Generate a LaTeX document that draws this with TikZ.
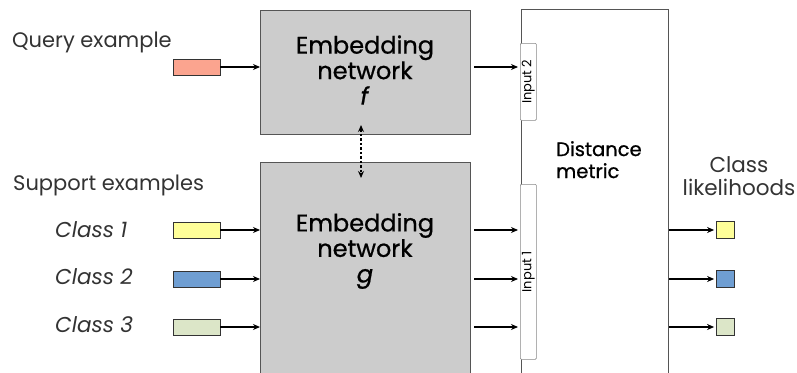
\documentclass[tikz,border=0pt]{standalone}
\usepackage{fontspec}
\setmainfont{Poppins}
\newfontfamily\netfont{Poppins}[FakeBold=0.8]
\usetikzlibrary{arrows.meta}
\definecolor{boxgray}{HTML}{CCCCCC}
\definecolor{edgegray}{HTML}{555555}
\definecolor{qcol}{HTML}{FBA48F}
\definecolor{c1col}{HTML}{FFFF99}
\definecolor{c2col}{HTML}{6F9ED2}
\definecolor{c3col}{HTML}{DCE6C8}
\definecolor{lighttext}{HTML}{333333}
\tikzset{
  netbox/.style={draw=edgegray, line width=1pt, fill=boxgray, inner sep=0pt, anchor=north west},
  distbox/.style={draw=edgegray, line width=1pt, fill=white, inner sep=0pt, anchor=north west},
  strip/.style={draw=edgegray!70, line width=0.6pt, fill=white, inner sep=0pt, anchor=north west, rounded corners=1pt},
  inrect/.style={draw=black!80, line width=0.8pt, minimum width=47pt, minimum height=16pt, inner sep=0pt},
  outsq/.style={draw=black!80, line width=0.8pt, minimum width=18pt, minimum height=17pt, inner sep=0pt},
  arr/.style={line width=1.8pt, -{Stealth[length=7pt,width=6pt]}},
  lbl/.style={text=lighttext, font=\fontsize{21}{24}\selectfont, inner sep=0pt, anchor=west},
  clbl/.style={text=lighttext, font=\fontsize{21.5}{24}\selectfont\itshape, inner sep=0pt, anchor=west},
  nettext/.style={font=\netfont\fontsize{24}{25.5}\selectfont, align=center, inner sep=0pt, text=black},
  disttext/.style={font=\netfont\fontsize{19.5}{22}\selectfont, align=left, inner sep=0pt, anchor=north west},
  intext/.style={font=\fontsize{13}{13}\selectfont, rotate=90, inner sep=0pt},
}
\begin{document}
\begin{tikzpicture}[x=1pt, y=-1pt]
\clip (0,0) rectangle (797,372);
\fill[white] (0,0) rectangle (797,372);
% network boxes
\node[netbox, minimum width=210pt, minimum height=124pt] (f) at (260,10) {};
\node[netbox, minimum width=210pt, minimum height=240pt] (g) at (260,162) {};
\node[nettext] (ftext) at (365,70) {Embedding\\network\\\textit{f}};
\node[nettext] (gtext) at (365,251) {Embedding\\network\\\textit{g}};
% distance metric
\node[distbox, minimum width=147pt, minimum height=400pt] (d) at (521,9) {};
\node[disttext] (dtext) at (556,141) {Distance\\metric};
\node[strip, minimum width=16pt, minimum height=77pt] (in2) at (520,43) {};
\node[strip, minimum width=16pt, minimum height=175pt] (in1) at (520,184) {};
\node[intext] (in2t) at (in2.center) {Input 2};
\node[intext] (in1t) at (in1.center) {Input 1};
% labels
\node[lbl] (ql) at (12,42) {Query example};
\node[lbl] (sl) at (13,185) {Support examples};
\node[clbl] (l1) at (55,230) {Class 1};
\node[clbl] (l2) at (55,277) {Class 2};
\node[clbl] (l3) at (55,325) {Class 3};
\node[text=lighttext, font=\fontsize{21.5}{23}\selectfont, align=center, inner sep=0pt] (cl) at (739,176) {Class\\likelihoods};
% input rectangles
\node[inrect, fill=qcol] (q) at (196.5,67) {};
\node[inrect, fill=c1col] (c1) at (196.5,230) {};
\node[inrect, fill=c2col] (c2) at (196.5,279) {};
\node[inrect, fill=c3col] (c3) at (196.5,327) {};
% output squares
\node[outsq, fill=c1col] (o1) at (725.5,230) {};
\node[outsq, fill=c2col] (o2) at (725.5,279) {};
\node[outsq, fill=c3col] (o3) at (725.5,327) {};
% arrows into networks
\draw[arr] (q.east) -- (q.east -| f.west);
\draw[arr] (c1.east) -- (c1.east -| g.west);
\draw[arr] (c2.east) -- (c2.east -| g.west);
\draw[arr] (c3.east) -- (c3.east -| g.west);
% arrows into distance
\draw[arr, shorten <=3pt, shorten >=2pt] (q.east -| f.east) -- (q.east -| in2.west);
\draw[arr, shorten <=3pt, shorten >=2pt] (c1.east -| g.east) -- (c1.east -| in1.west);
\draw[arr, shorten <=3pt, shorten >=2pt] (c2.east -| g.east) -- (c2.east -| in1.west);
\draw[arr, shorten <=3pt, shorten >=2pt] (c3.east -| g.east) -- (c3.east -| in1.west);
% arrows out
\draw[arr, shorten >=2pt] (o1.west -| d.east) -- (o1.west);
\draw[arr, shorten >=2pt] (o2.west -| d.east) -- (o2.west);
\draw[arr, shorten >=2pt] (o3.west -| d.east) -- (o3.west);
% shared weights
\coordinate (fb) at (361,134);
\coordinate (gt) at (361,162);
\draw[line width=1.2pt, dash pattern=on 2.5pt off 2pt, {Stealth[length=7pt,width=6pt]}-{Stealth[length=7pt,width=6pt]}, shorten <=-9pt, shorten >=-16pt] (fb) -- (gt);
\end{tikzpicture}
\end{document}
